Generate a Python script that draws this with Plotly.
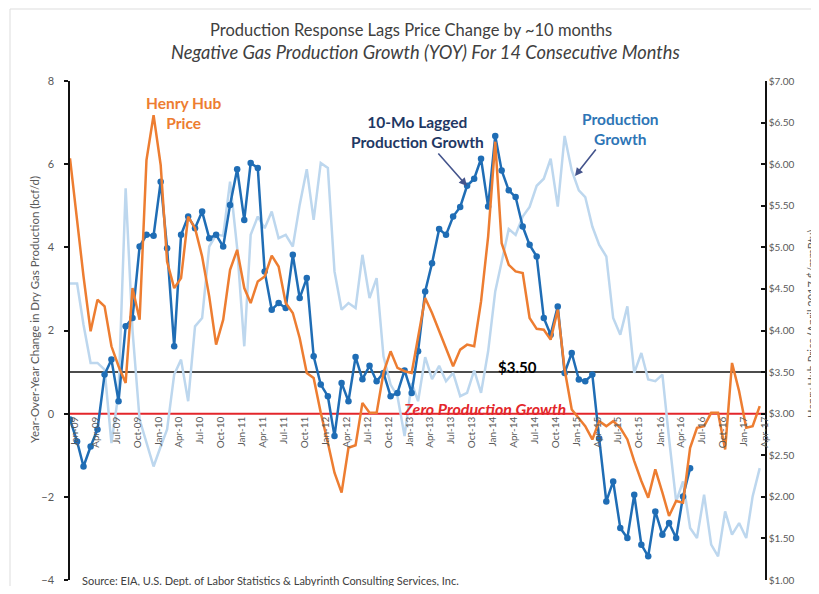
import plotly.graph_objects as go
import pandas as pd

# ---------------- data ----------------
months = pd.date_range("2009-01-01", "2017-04-01", freq="MS")  # Jan-09 .. Apr-17

henry_hub_price = [
    6.07, 5.33, 4.65, 3.99, 4.37, 4.29, 3.81, 3.57, 3.37, 4.51,
    4.13, 6.05, 6.59, 5.99, 4.83, 4.51, 4.63, 5.37, 5.23, 4.89,
    4.41, 3.83, 4.13, 4.73, 4.97, 4.51, 4.33, 4.59, 4.65, 4.90,
    4.77, 4.33, 4.21, 3.91, 3.49, 3.43, 3.01, 2.65, 2.29, 2.05,
    2.59, 2.62, 3.13, 3.01, 3.01, 3.49, 3.75, 3.55, 3.51, 3.49,
    3.93, 4.39, 4.21, 3.99, 3.79, 3.57, 3.77, 3.83, 3.81, 4.35,
    5.13, 6.27, 5.05, 4.79, 4.71, 4.69, 4.15, 4.02, 4.01, 3.89,
    4.25, 3.53, 3.05, 2.95, 2.85, 2.69, 2.91, 2.85, 2.91, 2.83,
    2.69, 2.43, 2.19, 1.99, 2.33, 2.05, 1.77, 1.95, 1.93, 2.59,
    2.83, 2.85, 3.01, 3.01, 2.57, 3.61, 3.27, 2.83, 2.85, 3.09,
]

production_growth = [
    3.13, 3.13, 2.14, 1.22, 1.22, 1.06, -0.71, 0.50, 5.42, 2.00,
    -0.14, -0.67, -1.27, -0.79, -0.38, 0.94, 1.30, 0.30, 2.10, 2.30,
    4.02, 4.30, 4.28, 5.58, 3.98, 1.62, 4.30, 4.74, 4.46, 4.86,
    4.22, 4.30, 4.02, 5.02, 5.88, 4.66, 6.03, 5.91, 3.42, 2.50,
    2.66, 2.54, 3.82, 2.78, 3.26, 1.38, 0.70, 0.42, -0.54, 0.74,
    0.30, 1.36, 0.83, 1.15, 0.78, 0.98, 0.42, 0.50, 1.04, 0.50,
    1.50, 2.94, 3.62, 4.44, 4.30, 4.74, 4.97, 5.48, 5.65, 6.13,
    4.98, 6.68, 5.85, 5.37, 5.21, 4.50, 4.06, 3.78, 2.30, 1.90,
    2.58, 0.98, 1.46, 0.82, 0.78, 0.94, -0.60, -2.11, -1.63, -2.75,
    -2.99, -1.95, -3.15, -3.43, -2.35, -2.91, -2.63, -2.99, -1.99, -1.31,
]

lag_months = 10
lagged_growth = production_growth[lag_months:]
lagged_months = months[:len(lagged_growth)]

tick_dates = months[::3]
tick_labels = [d.strftime("%b-%y") for d in tick_dates]

left_ticks = [-4, -2, 0, 2, 4, 6, 8]
right_ticks = [1.0, 1.5, 2.0, 2.5, 3.0, 3.5, 4.0, 4.5, 5.0, 5.5, 6.0, 6.5, 7.0]
right_tick_labels = ["$%.2f" % v for v in right_ticks]

# ---------------- layout geometry ----------------
# page body has an 8px margin, so the figure is drawn at (8, 8) on screen;
# keep the page from overflowing the 819x594 window
OFF = 8
W, H = 819 - OFF, 594 - 2 * OFF
# plot area in screen pixels
L, R, T, B = 70, 765, 81, 580
PW, PH = R - L, B - T


def px(x):
    return (x - L) / PW


def py(y):
    return (B - y) / PH


FONT = "Lato"
ORANGE = "#ED7D31"
DARK_BLUE = "#1F6DB5"
LIGHT_BLUE = "#BDD7EE"
GRAY = "#595959"

fig = go.Figure()

fig.add_trace(go.Scatter(
    x=months, y=production_growth, mode="lines",
    line=dict(color=LIGHT_BLUE, width=2.5), name="Production Growth",
))
fig.add_trace(go.Scatter(
    x=months, y=henry_hub_price, mode="lines", yaxis="y2",
    line=dict(color=ORANGE, width=2.5), name="Henry Hub Price",
))
fig.add_trace(go.Scatter(
    x=lagged_months, y=lagged_growth, mode="lines+markers",
    line=dict(color=DARK_BLUE, width=2.5),
    marker=dict(color=DARK_BLUE, size=6.5),
    name="10-Mo Lagged Production Growth",
))

# reference lines
fig.add_shape(type="line", xref="paper", yref="y", x0=0, x1=1, y0=1, y1=1,
              line=dict(color="#111111", width=1.5), layer="below")
fig.add_shape(type="line", xref="paper", yref="y", x0=0, x1=1, y0=0, y1=0,
              line=dict(color="#E3262B", width=2), layer="below")

# outer light border
fig.add_shape(type="rect", xref="paper", yref="paper",
              x0=px(10), x1=px(840), y0=py(620), y1=py(9),
              line=dict(color="#DDDDDD", width=1), layer="below")


def text(t, x, y, size, color, xanchor="center", **kw):
    fig.add_annotation(text=t, x=px(x), y=py(y), xref="paper", yref="paper",
                       xanchor=xanchor, yanchor="middle",
                       showarrow=False, font=dict(family=FONT, size=size, color=color), **kw)


text("Production Response Lags Price Change by ~10 months", 411, 30, 16.5, "#404040")
text("<i>Negative Gas Production Growth (YOY) For 14 Consecutive Months</i>", 425, 52, 18.3, "#404040")
text("<b>Henry Hub<br>Price</b>", 184, 113, 15.5, ORANGE)
text("<b>10-Mo Lagged<br>Production Growth</b>", 417, 132, 15.5, "#1F3864")
text("<b>Production<br>Growth</b>", 620, 129, 15.5, "#2E75B6")
text("<b>$3.50</b>", 518, 367, 15, "#000000")
text("<b><i>Zero Production Growth</i></b>", 484, 408, 16, "#E3262B")
text("Source: EIA, U.S. Dept. of Labor Statistics &amp; Labyrinth Consulting Services, Inc.",
     80, 580, 11, "#404040", xanchor="left")
text("Year-Over-Year Change in Dry Gas Production (bcf/d)", 34, 310, 11.5, GRAY, textangle=-90)
text("Henry Hub Price (April 2017 $/mmBtu)", 811, 324, 11, GRAY, textangle=-90)

# arrows
fig.add_annotation(x=px(467), y=py(186), xref="paper", yref="paper", text="",
                   showarrow=True, ax=-30, ay=-34, arrowhead=2, arrowsize=1,
                   arrowwidth=1.6, arrowcolor="#44548C")
fig.add_annotation(x=px(575), y=py(176), xref="paper", yref="paper", text="",
                   showarrow=True, ax=22, ay=-28, arrowhead=2, arrowsize=1,
                   arrowwidth=1.6, arrowcolor="#44548C")

fig.update_layout(
    width=W, height=H,
    margin=dict(l=L - OFF, r=W - (R - OFF), t=T - OFF, b=H - (B - OFF), autoexpand=False),
    paper_bgcolor="white", plot_bgcolor="white",
    showlegend=False,
    font=dict(family=FONT, color=GRAY),
    xaxis=dict(
        type="date", range=["2009-01-01", "2017-04-24"],
        tickvals=list(tick_dates), ticktext=tick_labels, tickangle=-90,
        tickfont=dict(family=FONT, size=10, color=GRAY),
        ticklabelshift=5,
        anchor="free", position=1 / 3,
        showline=False, ticks="", showgrid=False, zeroline=False,
        automargin=False,
    ),
    yaxis=dict(
        range=[-4, 8], tickvals=left_ticks,
        tickfont=dict(family=FONT, size=11, color=GRAY),
        showline=True, linecolor="#111111", linewidth=1.5,
        ticks="outside", ticklen=4, tickcolor="#111111", tickwidth=1.5,
        ticklabelstandoff=8,
        showgrid=False, zeroline=False, automargin=False,
    ),
    yaxis2=dict(
        range=[1, 7], overlaying="y", side="right",
        tickvals=right_ticks, ticktext=right_tick_labels,
        tickfont=dict(family=FONT, size=10, color=GRAY),
        showline=True, linecolor="#111111", linewidth=1.5,
        ticks="inside", ticklen=4, tickcolor="#111111", tickwidth=1.5,
        ticklabelstandoff=0,
        showgrid=False, zeroline=False, automargin=False,
    ),
)

fig.write_html("out.html")
